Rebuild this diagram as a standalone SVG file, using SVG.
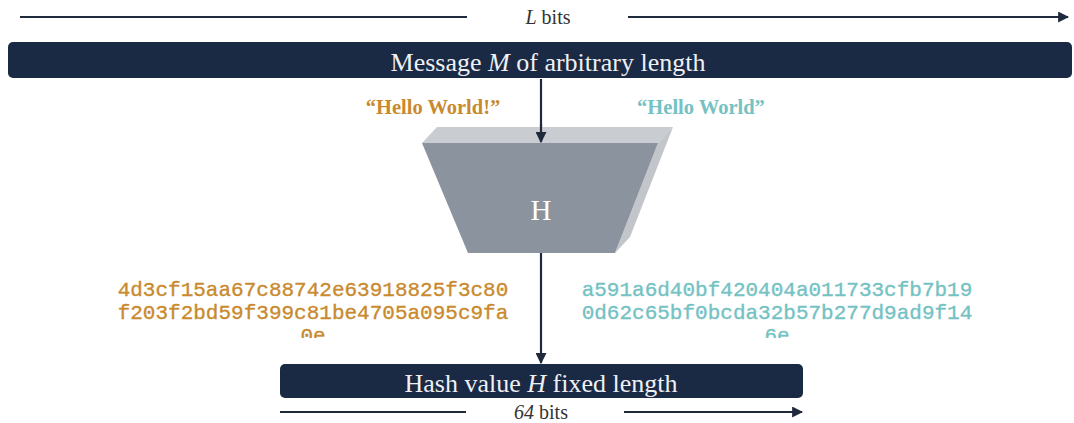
<svg xmlns="http://www.w3.org/2000/svg" width="1074" height="423" viewBox="0 0 1074 423">
<defs>
<style>
.bar{fill:#1a2944}
.line{stroke:#1f2b3d;stroke-width:2.2;fill:none}
.barText{font-family:"Liberation Serif",serif;font-size:26px;fill:#eef0f3;text-anchor:middle}
.bits{font-family:"Liberation Serif",serif;font-size:20px;fill:#333;text-anchor:middle}
.hello{font-family:"Liberation Serif",serif;font-size:20.5px;font-weight:bold;text-anchor:middle}
.hex{font-family:"Liberation Mono","Courier New",monospace;font-size:21px;text-anchor:middle;stroke-width:0.35}
</style>
<marker id="ah" viewBox="0 0 10 10" refX="9" refY="5" markerWidth="5" markerHeight="5" orient="auto" markerUnits="strokeWidth">
<path d="M0,0 L10,5 L0,10 z" fill="#1f2b3d"/>
</marker>
<clipPath id="hexclip"><rect x="0" y="270" width="1074" height="68"/></clipPath>
</defs>
<rect width="1074" height="423" fill="#ffffff"/>

<g id="connectors">
<line class="line" x1="20" y1="17" x2="467" y2="17"/>
<line class="line" x1="628" y1="17" x2="1068" y2="17" marker-end="url(#ah)"/>
<line class="line" x1="541" y1="79" x2="541" y2="142" marker-end="url(#ah)"/>
<line class="line" x1="541" y1="253" x2="541" y2="363" marker-end="url(#ah)"/>
<line class="line" x1="280" y1="412" x2="466" y2="412"/>
<line class="line" x1="624" y1="412" x2="802" y2="412" marker-end="url(#ah)"/>
</g>

<g id="label-L">
<text class="bits" x="548" y="24"><tspan font-style="italic">L</tspan> bits</text>
</g>

<g id="message">
<rect class="bar" x="8" y="42" width="1064" height="36" rx="5"/>
<text class="barText" x="548" y="71">Message <tspan font-style="italic">M</tspan> of arbitrary length</text>
</g>

<g id="hello1">
<text class="hello" x="433" y="114" fill="#c98a2e">“Hello World!”</text>
</g>
<g id="hello2">
<text class="hello" x="701" y="114" fill="#74c2c3">“Hello World”</text>
</g>

<g id="hash-function">
<polygon points="437,127 673,127 658,143 422,143" fill="#c9ccd1"/>
<polygon points="658,143 673,127 630,237 615,253" fill="#c2c5ca"/>
<polygon points="422,143 658,143 615,253 468,253" fill="#8b939e"/>
<line class="line" x1="541" y1="124" x2="541" y2="142" marker-end="url(#ah)"/>
<text x="541" y="220" font-family="Liberation Serif, serif" font-size="29" fill="#ffffff" text-anchor="middle">H</text>
</g>

<g id="hex1" clip-path="url(#hexclip)" fill="#c98a2e" stroke="#c98a2e">
<text class="hex" x="313" y="296">4d3cf15aa67c88742e63918825f3c80</text>
<text class="hex" x="313" y="319">f203f2bd59f399c81be4705a095c9fa</text>
<text class="hex" x="313" y="342">0e</text>
</g>
<g id="hex2" clip-path="url(#hexclip)" fill="#74c2c3" stroke="#74c2c3">
<text class="hex" x="777" y="296">a591a6d40bf420404a011733cfb7b19</text>
<text class="hex" x="777" y="319">0d62c65bf0bcda32b57b277d9ad9f14</text>
<text class="hex" x="777" y="342">6e</text>
</g>

<g id="hash-value">
<rect class="bar" x="280" y="364" width="523" height="34" rx="5"/>
<text class="barText" x="541" y="392">Hash value <tspan font-style="italic">H</tspan> fixed length</text>
</g>

<g id="label-64">
<text class="bits" x="541" y="419"><tspan font-style="italic">64</tspan> bits</text>
</g>
</svg>
